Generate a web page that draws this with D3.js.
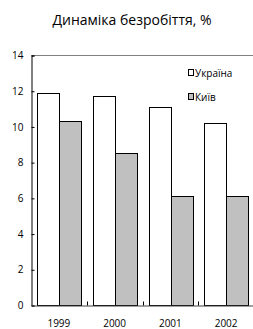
<!DOCTYPE html>
<html>
<head>
<meta charset="utf-8">
<script src="https://cdn.jsdelivr.net/npm/d3@7"></script>
<style>
  body { margin: 0; background: #ffffff; }
  svg { display: block; font-family: "Open Sans", sans-serif; }
</style>
</head>
<body>
<svg id="chart" width="253" height="329"></svg>
<script>
"use strict";

// données
var years = ["1999", "2000", "2001", "2002"];
var series = ["Україна", "Київ"];
var ukraine = [11.9, 11.7, 11.1, 10.2];
var kyiv = [10.3, 8.5, 6.1, 6.1];
var yTicks = [0, 2, 4, 6, 8, 10, 12, 14];
var title = "Динаміка безробіття, %";

var fills = { "Україна": "#ffffff", "Київ": "#c0c0c0" };

var svg = d3.select("#chart");

var plotLeft = 31, plotRight = 254, plotTop = 55, plotBottom = 305;

var x0 = d3.scaleBand()
  .domain(years)
  .range([plotLeft, plotRight])
  .padding(0);

var x1 = d3.scaleBand()
  .domain(series)
  .range([6, x0.bandwidth() - 6])
  .padding(0);

var y = d3.scaleLinear()
  .domain([0, 14])
  .range([plotBottom, plotTop]);

// titre
svg.append("text")
  .attr("x", 132)
  .attr("y", 25)
  .attr("text-anchor", "middle")
  .style("font-size", "14px")
  .attr("fill", "#000")
  .text(title);

// bordure du haut (grise)
svg.append("line")
  .attr("x1", plotLeft)
  .attr("x2", plotRight)
  .attr("y1", y(14) + 0.5)
  .attr("y2", y(14) + 0.5)
  .attr("stroke", "#808080")
  .attr("stroke-width", 1);

// barres
var rows = years.map(function(d, i) {
  return { year: d, values: [ { name: "Україна", v: ukraine[i] }, { name: "Київ", v: kyiv[i] } ] };
});

var groups = svg.selectAll(".year")
  .data(rows)
  .enter()
  .append("g")
  .attr("class", "year")
  .attr("transform", function(d) { return "translate(" + Math.round(x0(d.year)) + ",0)"; });

groups.selectAll("rect")
  .data(function(d) { return d.values; })
  .enter()
  .append("rect")
  .attr("x", function(d) { return Math.round(x1(d.name)) + 0.5; })
  .attr("y", function(d) { return Math.round(y(d.v)) + 0.5; })
  .attr("width", Math.round(x1.bandwidth()))
  .attr("height", function(d) { return Math.round(y(0)) - Math.round(y(d.v)); })
  .attr("fill", function(d) { return fills[d.name]; })
  .attr("stroke", "#000")
  .attr("stroke-width", 1);

// axe Y
var yAxis = svg.append("g")
  .attr("transform", "translate(" + (plotLeft + 0.5) + ",0.5)")
  .call(d3.axisLeft(y).tickValues(yTicks).tickSize(-3).tickPadding(8));

yAxis.select(".domain").attr("stroke", "#000");
yAxis.selectAll("text")
  .style("font-size", "10px")
  .style("font-family", "Open Sans, sans-serif")
  .attr("fill", "#000");

// axe X
var xAxis = svg.append("g")
  .attr("transform", "translate(0," + (plotBottom + 0.5) + ")")
  .call(d3.axisBottom(x0).tickSize(0).tickPadding(14));

xAxis.select(".domain").attr("stroke", "#404040");
xAxis.selectAll("text")
  .style("font-size", "10px")
  .style("font-family", "Open Sans, sans-serif")
  .attr("fill", "#000");

// petites graduations entre les catégories
xAxis.selectAll(".sep")
  .data(years.slice(1))
  .enter()
  .append("line")
  .attr("class", "sep")
  .attr("x1", function(d) { return Math.round(x0(d)) + 0.5; })
  .attr("x2", function(d) { return Math.round(x0(d)) + 0.5; })
  .attr("y1", 0)
  .attr("y2", -4)
  .attr("stroke", "#000");

// légende
var legend = svg.append("g")
  .attr("class", "legend")
  .attr("transform", "translate(188,0)")
  .style("font-size", "10px");

var items = legend.selectAll(".oneLegend")
  .data(series)
  .enter()
  .append("g")
  .attr("class", "oneLegend")
  .attr("transform", function(d, i) { return "translate(0," + (73 + i * 24) + ")"; });

items.append("rect")
  .attr("x", 0.5)
  .attr("y", -3.5)
  .attr("width", 5)
  .attr("height", 6)
  .attr("fill", function(d) { return fills[d]; })
  .attr("stroke", "#000");

items.append("text")
  .attr("x", 7)
  .attr("y", 3.5)
  .attr("fill", "#000")
  .text(function(d) { return d; });
</script>
</body>
</html>
